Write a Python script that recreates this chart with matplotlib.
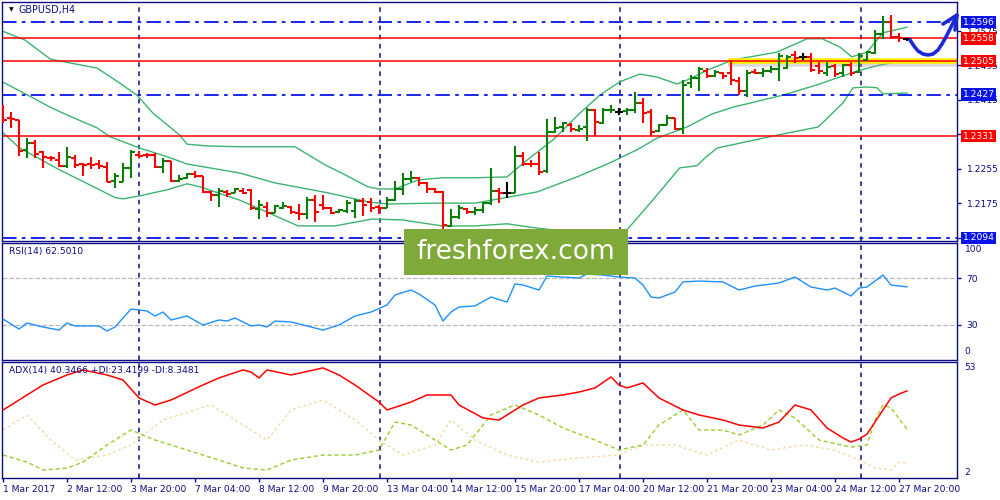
import numpy as np
import matplotlib
matplotlib.use("Agg")
import matplotlib.pyplot as plt
from matplotlib.patches import Rectangle
from matplotlib.transforms import blended_transform_factory as blend

# GBPUSD H4 bars, bar 0 = 1 Mar 2017 00:00
opens = [1.2371, 1.2373, 1.2368, 1.2299, 1.2315, 1.2295, 1.2281, 1.2275, 1.2262, 1.2281,
         1.2266, 1.2266, 1.2266, 1.2260, 1.2227, 1.2225, 1.2257, 1.2288, 1.2288, 1.2288,
         1.2260, 1.2273, 1.2227, 1.2234, 1.2243, 1.2238, 1.2201, 1.2195, 1.2201, 1.2199,
         1.2204, 1.2206, 1.2162, 1.2166, 1.2152, 1.2164, 1.2166, 1.2152, 1.2150, 1.2182,
         1.2171, 1.2164, 1.2155, 1.2157, 1.2157, 1.2180, 1.2178, 1.2166, 1.2164, 1.2182,
         1.2208, 1.2231, 1.2234, 1.2222, 1.2208, 1.2201, 1.2122, 1.2143, 1.2161, 1.2155,
         1.2159, 1.2175, 1.2204, 1.2199, 1.2199, 1.2285, 1.2266, 1.2266, 1.2250, 1.2340,
         1.2352, 1.2357, 1.2345, 1.2352, 1.2392, 1.2361, 1.2391, 1.2387, 1.2389, 1.2392,
         1.2408, 1.2387, 1.2343, 1.2357, 1.2373, 1.2347, 1.2454, 1.2466, 1.2482, 1.2470,
         1.2477, 1.2477, 1.2459, 1.2436, 1.2480, 1.2477, 1.2482, 1.2487, 1.2489, 1.2519,
         1.2515, 1.2515, 1.2494, 1.2477, 1.2494, 1.2477, 1.2496, 1.2480, 1.2508, 1.2524,
         1.2568, 1.2596, 1.2561, 1.2557]
highs = [1.2403, 1.2387, 1.2369, 1.2326, 1.2322, 1.2297, 1.2285, 1.2295, 1.2306, 1.2288,
         1.2269, 1.2283, 1.2275, 1.2271, 1.2245, 1.2269, 1.2299, 1.2297, 1.2292, 1.2292,
         1.2279, 1.2274, 1.2241, 1.2245, 1.2250, 1.2239, 1.2204, 1.2211, 1.2206, 1.2211,
         1.2211, 1.2208, 1.2182, 1.2178, 1.2171, 1.2178, 1.2168, 1.2173, 1.2190, 1.2195,
         1.2195, 1.2165, 1.2161, 1.2182, 1.2185, 1.2188, 1.2188, 1.2171, 1.2190, 1.2227,
         1.2245, 1.2250, 1.2236, 1.2223, 1.2211, 1.2204, 1.2161, 1.2171, 1.2164, 1.2166,
         1.2178, 1.2257, 1.2211, 1.2225, 1.2308, 1.2295, 1.2275, 1.2295, 1.2371, 1.2375,
         1.2364, 1.2361, 1.2357, 1.2396, 1.2393, 1.2396, 1.2403, 1.2396, 1.2396, 1.2433,
         1.2419, 1.2394, 1.2359, 1.2380, 1.2374, 1.2461, 1.2473, 1.2491, 1.2489, 1.2484,
         1.2480, 1.2508, 1.2468, 1.2484, 1.2487, 1.2489, 1.2494, 1.2524, 1.2519, 1.2529,
         1.2524, 1.2524, 1.2503, 1.2503, 1.2498, 1.2498, 1.2503, 1.2524, 1.2529, 1.2577,
         1.2610, 1.2612, 1.2571, 1.2559]
lows = [1.2361, 1.2350, 1.2285, 1.2281, 1.2281, 1.2257, 1.2273, 1.2260, 1.2257, 1.2257,
        1.2238, 1.2255, 1.2255, 1.2224, 1.2211, 1.2224, 1.2234, 1.2281, 1.2281, 1.2257,
        1.2245, 1.2225, 1.2225, 1.2231, 1.2234, 1.2199, 1.2180, 1.2166, 1.2190, 1.2198,
        1.2197, 1.2159, 1.2138, 1.2143, 1.2151, 1.2161, 1.2150, 1.2136, 1.2138, 1.2131,
        1.2159, 1.2150, 1.2152, 1.2152, 1.2141, 1.2145, 1.2155, 1.2150, 1.2163, 1.2180,
        1.2195, 1.2225, 1.2215, 1.2199, 1.2199, 1.2115, 1.2119, 1.2138, 1.2150, 1.2148,
        1.2152, 1.2171, 1.2175, 1.2188, 1.2198, 1.2262, 1.2260, 1.2241, 1.2245, 1.2338,
        1.2340, 1.2340, 1.2340, 1.2319, 1.2331, 1.2359, 1.2385, 1.2380, 1.2380, 1.2385,
        1.2361, 1.2331, 1.2340, 1.2356, 1.2345, 1.2336, 1.2443, 1.2436, 1.2466, 1.2468,
        1.2463, 1.2450, 1.2426, 1.2422, 1.2475, 1.2468, 1.2477, 1.2459, 1.2487, 1.2501,
        1.2508, 1.2480, 1.2475, 1.2470, 1.2468, 1.2468, 1.2470, 1.2477, 1.2506, 1.2521,
        1.2557, 1.2557, 1.2549, 1.2552]
closes = [1.2368, 1.2371, 1.2297, 1.2315, 1.2290, 1.2283, 1.2279, 1.2262, 1.2283, 1.2264,
          1.2264, 1.2264, 1.2262, 1.2225, 1.2238, 1.2257, 1.2295, 1.2285, 1.2287, 1.2260,
          1.2273, 1.2227, 1.2231, 1.2243, 1.2238, 1.2201, 1.2195, 1.2204, 1.2197, 1.2208,
          1.2199, 1.2164, 1.2171, 1.2152, 1.2168, 1.2168, 1.2155, 1.2150, 1.2182, 1.2155,
          1.2164, 1.2152, 1.2159, 1.2175, 1.2180, 1.2171, 1.2164, 1.2164, 1.2182, 1.2208,
          1.2231, 1.2234, 1.2222, 1.2208, 1.2201, 1.2124, 1.2143, 1.2164, 1.2155, 1.2159,
          1.2175, 1.2204, 1.2199, 1.2199, 1.2285, 1.2266, 1.2265, 1.2247, 1.2340, 1.2350,
          1.2361, 1.2347, 1.2347, 1.2392, 1.2364, 1.2392, 1.2392, 1.2387, 1.2392, 1.2408,
          1.2385, 1.2340, 1.2357, 1.2373, 1.2347, 1.2450, 1.2466, 1.2487, 1.2470, 1.2480,
          1.2470, 1.2461, 1.2436, 1.2477, 1.2477, 1.2482, 1.2487, 1.2517, 1.2515, 1.2512,
          1.2515, 1.2484, 1.2482, 1.2491, 1.2475, 1.2496, 1.2477, 1.2517, 1.2526, 1.2568,
          1.2596, 1.2561, 1.2559, 1.2557]

# Bollinger bands (20,2) at bar positions
up_idx = [-0.1, 2.75, 5.9, 7.75, 11.75, 14.6, 16.75, 18.75, 22.1, 23, 25.5, 29.6, 36.5,
          40.25, 42.75, 45.6, 46.9, 49, 51.9, 54.9, 59, 63, 65.5, 68.75, 72.1, 74.6, 77.1,
          79.6, 81.75, 84.25, 85.5, 88.4, 91.25, 96.75, 100.5, 102.4, 104.6, 106.1, 108,
          110, 113]
up_val = [1.2575, 1.2554, 1.2510, 1.2503, 1.2489, 1.2454, 1.2426, 1.2384, 1.2333, 1.2312,
          1.2308, 1.2306, 1.2306, 1.2264, 1.2241, 1.2213, 1.2208, 1.2208, 1.2229, 1.2234,
          1.2234, 1.2236, 1.2275, 1.2322, 1.2384, 1.2426, 1.2457, 1.2475, 1.2468, 1.2452,
          1.2461, 1.2487, 1.2508, 1.2526, 1.2557, 1.2557, 1.2538, 1.2515, 1.2526, 1.2571,
          1.2584]
mid_idx = [-0.1, 3.1, 5.9, 8, 11.75, 13.4, 17.1, 20.5, 23, 29.6, 34, 40.6, 45.6, 48.1,
           54, 59, 66.75, 71.75, 75.9, 79.25, 81.75, 85.5, 88.6, 91.25, 97.5, 101.75,
           106.75, 109.6, 113]
mid_val = [1.2457, 1.2426, 1.2398, 1.2380, 1.2350, 1.2329, 1.2303, 1.2283, 1.2266, 1.2245,
           1.2222, 1.2199, 1.2178, 1.2173, 1.2175, 1.2175, 1.2201, 1.2236, 1.2269, 1.2299,
           1.2326, 1.2352, 1.2382, 1.2398, 1.2426, 1.2450, 1.2482, 1.2496, 1.2508]
low_idx = [-0.1, 2.1, 7.1, 10.9, 14, 15, 17.1, 20.5, 23, 24.6, 29.6, 36.9, 41.5, 46.1,
           49.9, 54.9, 59, 63, 66.75, 72.1, 78, 80.9, 84.6, 86.75, 87.75, 89.25, 96.75,
           101.9, 105, 106.25, 108, 109.25, 110, 113]
low_val = [1.2340, 1.2303, 1.2252, 1.2217, 1.2188, 1.2185, 1.2192, 1.2206, 1.2220, 1.2213,
           1.2182, 1.2122, 1.2122, 1.2138, 1.2136, 1.2122, 1.2122, 1.2127, 1.2117, 1.2106,
           1.2113, 1.2175, 1.2257, 1.2262, 1.2280, 1.2303, 1.2333, 1.2352, 1.2408, 1.2443,
           1.2445, 1.2443, 1.2429, 1.2431]

# RSI(14)
rsi_idx = [0, 2, 3, 5, 7, 8, 9, 12, 13, 14, 16, 18, 19, 20, 21, 23, 25, 27, 28, 29,
           31, 32, 33, 34, 36, 37, 40, 42, 44, 46, 48, 49, 51, 52, 54, 55, 56, 57, 59, 61,
           63, 64, 65, 67, 68, 70, 72, 73, 75, 77, 79, 80, 81, 82, 84, 85, 87, 90, 92, 94,
           97, 99, 101, 103, 104, 106, 107, 108, 110, 111, 113]
rsi_val = [35.0, 26.5, 31.6, 28.2, 25.6, 31.6, 29.1, 29.1, 24.8, 28.2, 43.6, 41.9, 37.6, 41.0,
           34.2, 37.6, 29.9, 34.2, 33.3, 35.9, 29.1, 29.9, 28.2, 33.3, 32.5, 30.8, 25.6, 29.9,
           37.6, 41.0, 47.0, 55.6, 59.8, 56.4, 47.0, 33.3, 41.0, 45.3, 46.2, 53.8, 49.6, 65.0,
           64.1, 59.8, 71.8, 70.9, 70.1, 73.5, 72.6, 70.9, 70.1, 64.1, 53.8, 53.0, 58.1, 66.7,
           67.5, 66.7, 59.8, 63.2, 65.8, 70.9, 62.4, 59.8, 61.5, 54.7, 61.5, 62.4, 72.6, 64.1,
           62.5]

# ADX(14) main line, +DI, -DI
adx_idx = [0, 2, 5, 8, 10, 13, 15, 17, 19, 21, 25, 27, 30, 31, 32, 33, 36, 40, 42, 44,
           47, 48, 51, 53, 56, 57, 60, 62, 65, 67, 70, 72, 74, 76, 77, 78, 80, 82, 85, 87,
           90, 92, 95, 97, 99, 101, 103, 105, 106, 107, 108, 109, 111, 112, 113]
adx_val = [31.9, 36.3, 42.9, 47.3, 49.5, 47.3, 45.1, 37.2, 34.1, 36.3, 42.9, 46.0, 49.5, 48.6,
           46.0, 49.5, 47.3, 50.4, 47.3, 42.9, 35.4, 31.9, 35.4, 38.5, 38.5, 34.1, 28.4, 27.5,
           34.1, 37.2, 38.5, 39.8, 41.6, 46.4, 42.9, 41.6, 43.8, 37.2, 31.9, 29.7, 27.5, 25.3,
           24.0, 26.6, 34.1, 31.9, 24.0, 19.6, 17.8, 19.1, 21.3, 26.6, 37.2, 38.9, 40.3]
pdi_idx = [0, 3, 5, 8, 10, 13, 16, 19, 23, 27, 30, 33, 36, 40, 44, 47, 49, 51, 54, 56,
           58, 61, 64, 67, 70, 74, 77, 80, 82, 85, 87, 90, 92, 95, 97, 99, 102, 106, 108, 109,
           110, 111, 113]
pdi_val = [12.1, 9.0, 5.5, 6.4, 9.0, 16.5, 23.1, 18.7, 14.3, 9.9, 6.4, 5.5, 9.9, 12.1, 12.1,
           14.3, 26.6, 25.3, 18.7, 14.3, 16.5, 29.7, 34.1, 29.7, 24.0, 18.7, 14.3, 16.5, 25.3,
           31.9, 23.1, 23.1, 20.9, 25.3, 31.9, 28.4, 18.7, 15.6, 16.5, 27.5, 34.1, 32.8, 23.4]
mdi_idx = [0, 3, 6, 9, 13, 16, 20, 26, 30, 33, 36, 40, 44, 47, 50, 54, 56, 59, 63, 67,
           72, 77, 80, 84, 88, 92, 96, 100, 104, 107, 109, 111, 112, 113]
mdi_val = [23.1, 29.7, 18.7, 9.9, 12.1, 16.5, 27.5, 34.1, 25.3, 18.7, 31.9, 36.3, 27.5, 18.7,
           12.1, 16.5, 27.5, 18.7, 12.1, 9.0, 10.8, 12.1, 16.5, 16.5, 12.1, 18.7, 14.3, 16.5,
           14.3, 9.9, 6.4, 5.5, 9.0, 8.3]

price_ticks = [1.2575, 1.2495, 1.2415, 1.2335, 1.2255, 1.2175, 1.2095]
price_tick_lbl = ["1.2575", "1.2495", "1.2415", "", "1.2255", "1.2175", ""]
level_px = [1.2596, 1.2558, 1.2505, 1.2427, 1.2331, 1.2094]
level_kind = ["blue", "red", "red", "blue", "red", "blue"]

tick_idx = list(range(0, 113, 8))
tick_lbl = ["1 Mar 2017", "2 Mar 12:00", "3 Mar 20:00", "7 Mar 04:00", "8 Mar 12:00",
            "9 Mar 20:00", "13 Mar 04:00", "14 Mar 12:00", "15 Mar 20:00", "17 Mar 04:00",
            "20 Mar 12:00", "21 Mar 20:00", "23 Mar 04:00", "24 Mar 12:00", "27 Mar 20:00"]

NAVY = "#0c0c84"
BLUE = "#0a14e6"
RED = "#ff0000"
BULL = "#0b7d0b"
BB = "#3cb371"
FS = 6.6
plt.rcParams["font.family"] = "DejaVu Sans"

fig = plt.figure(figsize=(10, 5), dpi=100)
fig.patch.set_facecolor("white")

def px_axes(x0, y0, x1, y1):
    return fig.add_axes([x0 / 1000, 1 - y1 / 500, (x1 - x0) / 1000, (y1 - y0) / 500])

ax = px_axes(2, 2, 957, 241)
ar = px_axes(2, 243, 957, 360)
ad = px_axes(2, 362, 957, 478)
XL = (-0.125, 119.25)
for a in (ax, ar, ad):
    a.set_xlim(*XL)
    for s in a.spines.values():
        s.set_color(NAVY); s.set_linewidth(1.0)
    a.yaxis.tick_right()
    a.tick_params(axis="y", colors=NAVY, labelcolor=NAVY, labelsize=FS, length=3, width=1, pad=4)
    a.set_xticks([])
    # period separators
    for v in [17, 47.1, 77.1, 107.25]:
        a.axvline(v, color=NAVY, ls=(0, (3, 3)), lw=1.1, zorder=1)

# ---- price panel ----
ax.set_ylim(1.2087, 1.26425)
ax.set_yticks(price_ticks)
ax.set_yticklabels(price_tick_lbl)

idx = np.arange(len(opens))
o = np.array(opens); h = np.array(highs); l = np.array(lows); c = np.array(closes)
cols = np.where(c > o, BULL, np.where(c < o, RED, "#000000"))
ax.plot(up_idx, up_val, color=BB, lw=1, zorder=2)
ax.plot(mid_idx, mid_val, color=BB, lw=1, zorder=2)
ax.plot(low_idx, low_val, color=BB, lw=1, zorder=2)

ax.hlines([1.2596, 1.2427, 1.2094], *XL, colors=BLUE, lw=1.3, linestyles=[(0, (8, 3, 2, 3))], zorder=2)
ax.hlines(1.2505 - 0.0006, 90.6, XL[1], colors="#9a9a9a", lw=4, alpha=0.35, zorder=2)
ax.hlines(1.2505, 90.6, XL[1], colors="#ffee00", lw=4, zorder=2)
ax.hlines([1.2558, 1.2505, 1.2331], *XL, colors=RED, lw=1.1, zorder=2)

ax.vlines(idx, l, h, colors=cols, lw=1.5, zorder=4)
ax.hlines(o, idx - 0.45, idx, colors=cols, lw=1.5, zorder=4)
ax.hlines(c, idx, idx + 0.45, colors=cols, lw=1.5, zorder=4)

tr = blend(ax.transAxes, ax.transData)
for p, kind in zip(level_px, level_kind):
    ax.text(1.0058, p, f"{p:.4f}", transform=tr, ha="left", va="center", color="white",
            fontsize=FS, clip_on=False, zorder=6,
            bbox=dict(boxstyle="square,pad=0.2", fc=BLUE if kind == "blue" else RED, ec="none"))
ax.text(0.017, 0.967, "GBPUSD,H4", transform=ax.transAxes, ha="left", va="center",
        color=NAVY, fontsize=FS + 0.3)
ax.text(0.007, 0.967, "▼", transform=ax.transAxes, ha="left", va="center", color="#000020", fontsize=4.5)

# ---- RSI panel ----
ar.set_ylim(0, 100)
ar.hlines([30, 70], *XL, colors="#b8b8b8", lw=0.9, linestyles="--", zorder=1)
ar.plot(rsi_idx, rsi_val, color="#1e90ff", lw=1, zorder=3)
ar.set_yticks([30, 70]); ar.set_yticklabels(["30", "70"])
ar.text(1.008, 0.985, "100", transform=ar.transAxes, ha="left", va="top", color=NAVY, fontsize=FS)
ar.text(1.008, 0.03, "0", transform=ar.transAxes, ha="left", va="bottom", color=NAVY, fontsize=FS)
ar.text(0.007, 0.93, "RSI(14) 62.5010", transform=ar.transAxes, ha="left", va="center",
        color=NAVY, fontsize=FS)

# ---- ADX panel ----
ad.set_ylim(2, 53)
ad.set_yticks([])
ad.plot(mdi_idx, mdi_val, color="#f3d9a6", lw=1, ls=(0, (2, 2)), zorder=2)
ad.plot(pdi_idx, pdi_val, color="#9acd32", lw=1, ls=(0, (3, 2)), zorder=2)
ad.plot(adx_idx, adx_val, color=RED, lw=1.1, zorder=3)
ad.text(1.008, 0.995, "53", transform=ad.transAxes, ha="left", va="top", color=NAVY, fontsize=FS)
ad.text(1.008, 0.01, "2", transform=ad.transAxes, ha="left", va="bottom", color=NAVY, fontsize=FS)
ad.text(0.007, 0.93, "ADX(14) 40.3466 +DI:23.4199 -DI:8.3481", transform=ad.transAxes,
        ha="left", va="center", color=NAVY, fontsize=FS)
ad.set_xticks(tick_idx)
ad.set_xticklabels(tick_lbl)
ad.tick_params(axis="x", colors=NAVY, labelcolor=NAVY, labelsize=FS, length=3, width=1, pad=2)
for t in ad.get_xticklabels():
    t.set_ha("left")

# ---- overlay: watermark and hand-drawn arrow ----
ov = fig.add_axes([0, 0, 1, 1], zorder=10)
ov.set_xlim(0, 1000); ov.set_ylim(500, 0); ov.axis("off")
ov.add_patch(Rectangle((404, 229), 224, 46, fc="#7faa3a", ec="none"))
ov.text(516, 252, "freshforex.com", ha="center", va="center", color="white", fontsize=19)
arrow_x = [910, 914, 918, 923, 928, 933, 938, 942, 946, 950, 954, 957]
arrow_y = [40, 46, 51, 54, 55, 54, 50, 44, 37, 29, 21, 15]
ov.plot(arrow_x, arrow_y, color="#1a2ad8", lw=2.6, solid_capstyle="round")
ov.plot([943, 957, 955], [24, 15, 30], color="#1a2ad8", lw=2.6, solid_capstyle="round",
        solid_joinstyle="round")

fig.savefig("out.png", dpi=100)
